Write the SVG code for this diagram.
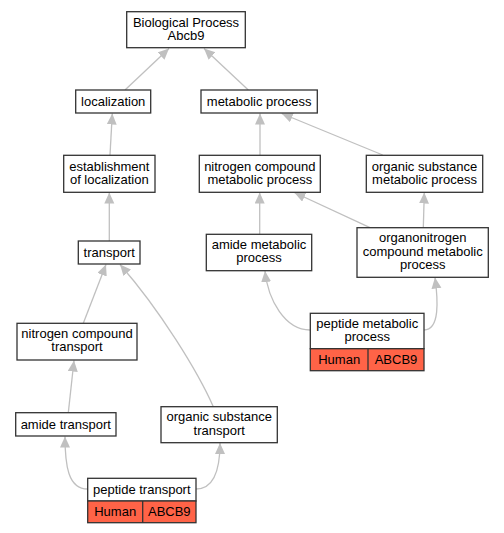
<svg xmlns="http://www.w3.org/2000/svg" width="504" height="533" viewBox="0 0 504 533">
<style>
.n rect{fill:#fff;stroke:#333;stroke-width:1.3}
.n rect.c{fill:#ff6347}
.n line{stroke:#333;stroke-width:1.3}
text{font-family:"Liberation Sans",Arial,sans-serif;font-size:13px;fill:#000;text-anchor:middle}
.e path{fill:none;stroke:#c0c0c0;stroke-width:1.3;marker-end:url(#a)}
</style>
<defs>
<marker id="a" markerUnits="userSpaceOnUse" markerWidth="12" markerHeight="11" refX="11" refY="5" orient="auto"><path d="M0,0 L11,5 L0,10 z" fill="#c0c0c0"/></marker>
</defs>
<rect width="504" height="533" fill="#fff"/>
<g class="e" id="edges">
<path d="M125,90 L169,48.5"/>
<path d="M248.3,90 L204,48.5"/>
<path d="M110,155 L112.3,113.5"/>
<path d="M260,155 L260,113.5"/>
<path d="M382.7,155 L281.7,113.5"/>
<path d="M109.3,241 L109.3,192.5"/>
<path d="M259.7,234 L259.7,192.5"/>
<path d="M370,227.7 L294.3,192.5"/>
<path d="M423.3,227.7 L424.3,192.5"/>
<path d="M83.3,323.3 L106,264.5"/>
<path d="M213.3,406.7 C198,372 160,310 120,264.5"/>
<path d="M68.3,412.7 L74,360.5"/>
<path d="M310,330 C285,330 268,300 265,271"/>
<path d="M424,330 C440,330 438,300 435,277.5"/>
<path d="M87.7,489 C68,489 65,465 65,436.5"/>
<path d="M196,489 C216,489 220,465 220,443"/>
</g>
<g class="n" id="bp"><rect x="126.7" y="11.7" width="118.6" height="36"/><text x="186" y="26.5">Biological Process</text><text x="186" y="40">Abcb9</text></g>
<g class="n" id="localization"><rect x="75.7" y="90" width="75" height="23"/><text x="113.2" y="106">localization</text></g>
<g class="n" id="metabolic"><rect x="201" y="90" width="116.3" height="23"/><text x="259.2" y="106">metabolic process</text></g>
<g class="n" id="establishment"><rect x="63.7" y="155.3" width="91.3" height="37"/><text x="109.3" y="170.5">establishment</text><text x="109.3" y="184">of localization</text></g>
<g class="n" id="nitrogenmetab"><rect x="199.3" y="155.3" width="121" height="37"/><text x="259.8" y="170.5">nitrogen compound</text><text x="259.8" y="184">metabolic process</text></g>
<g class="n" id="orgsubmetab"><rect x="366.3" y="155.3" width="116.4" height="37"/><text x="424.5" y="170.5">organic substance</text><text x="424.5" y="184">metabolic process</text></g>
<g class="n" id="transport"><rect x="78.3" y="241" width="61.7" height="23"/><text x="109.2" y="257">transport</text></g>
<g class="n" id="amidemetab"><rect x="206.3" y="234.3" width="105.4" height="36.4"/><text x="259" y="248.5">amide metabolic</text><text x="259" y="262">process</text></g>
<g class="n" id="organonitrogen"><rect x="357" y="227.7" width="131.3" height="49.6"/><text x="422.7" y="242">organonitrogen</text><text x="422.7" y="255.5">compound metabolic</text><text x="422.7" y="269">process</text></g>
<g class="n" id="nitrogentransport"><rect x="17" y="323.3" width="120" height="36.7"/><text x="77" y="337.5">nitrogen compound</text><text x="77" y="351">transport</text></g>
<g class="n" id="peptidemetab"><rect x="310.3" y="313.3" width="113.7" height="35.4"/><rect class="c" x="310.3" y="348.7" width="113.7" height="22"/><line x1="368" y1="348.7" x2="368" y2="370.7"/><text x="367.2" y="327.5">peptide metabolic</text><text x="367.2" y="341">process</text><text x="339.2" y="364">Human</text><text x="396" y="364">ABCB9</text></g>
<g class="n" id="amidetransport"><rect x="15.7" y="412.7" width="100.3" height="23.3"/><text x="65.8" y="428.5">amide transport</text></g>
<g class="n" id="orgsubtransport"><rect x="161" y="406.7" width="116.3" height="36"/><text x="219.2" y="421">organic substance</text><text x="219.2" y="434.5">transport</text></g>
<g class="n" id="peptidetransport"><rect x="87.7" y="478.3" width="108.3" height="22.7"/><rect class="c" x="87.7" y="501" width="108.3" height="21.7"/><line x1="142.7" y1="501" x2="142.7" y2="522.7"/><text x="141.8" y="493.5">peptide transport</text><text x="115.2" y="516">Human</text><text x="169.3" y="516">ABCB9</text></g>
</svg>
